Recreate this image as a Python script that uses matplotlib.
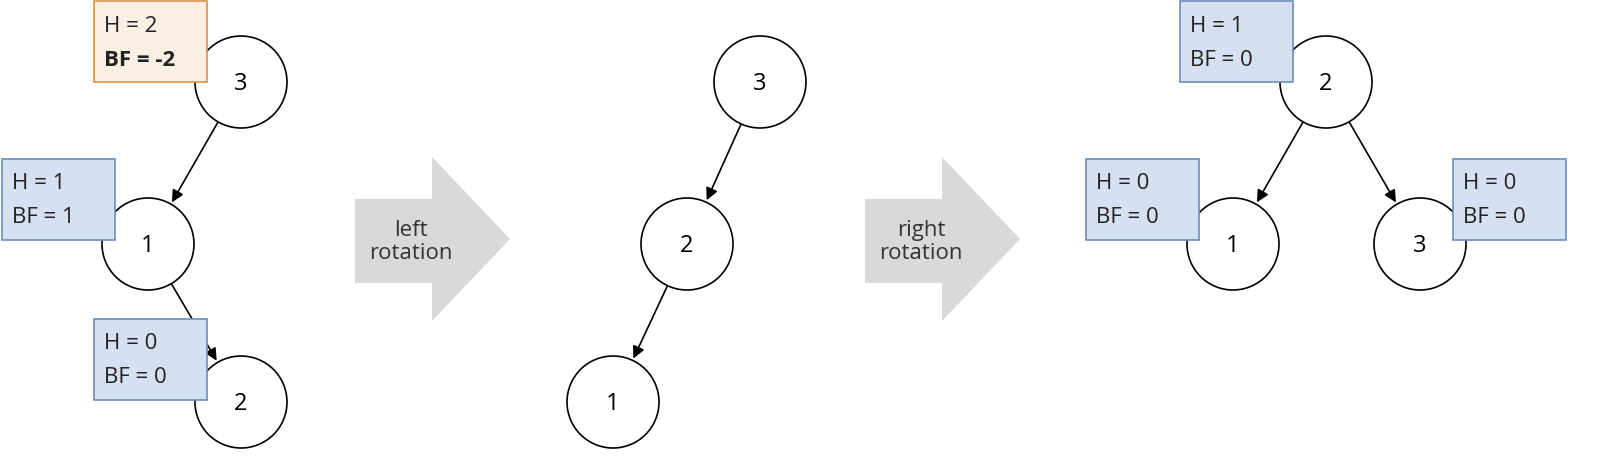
import numpy as np
import matplotlib.pyplot as plt
from matplotlib.patches import Circle, Rectangle, Polygon, FancyArrowPatch

plt.rcParams['font.family'] = ['Open Sans', 'DejaVu Sans']

# node labels per tree
node_labels = ['3', '1', '2', '3', '2', '1', '2', '1', '3']
node_xy = [(241, 83), (148, 245), (241, 403),
           (760, 83), (687, 245), (613, 403),
           (1326, 83), (1233, 245), (1420, 245)]
edges = [(0, 1), (1, 2), (3, 4), (4, 5), (6, 7), (6, 8)]

box_heights = ['2', '1', '0', '1', '0', '0']
box_bfs = ['-2', '1', '0', '0', '0', '0']
box_xy = [(94, 2), (2, 160), (94, 320), (1180, 2), (1086, 160), (1453, 160)]

rot_labels = ['left\nrotation', 'right\nrotation']
rot_x = [355, 865]

R = 46
fig = plt.figure(figsize=(16, 4.6), dpi=100)
ax = fig.add_axes([0, 0, 1, 1])
ax.set_xlim(0, 1600)
ax.set_ylim(460, 0)
ax.axis('off')

for (a, b) in edges:
    p1, p2 = np.array(node_xy[a], float), np.array(node_xy[b], float)
    d = (p2 - p1) / np.linalg.norm(p2 - p1)
    s, e = p1 + d * (R + 1), p2 - d * (R + 2)
    ar = FancyArrowPatch(tuple(s), tuple(e), arrowstyle='-|>', mutation_scale=18,
                         shrinkA=0, shrinkB=0, color='black', lw=1.2, zorder=1)
    ax.add_patch(ar)

for lab, (x, y) in zip(node_labels, node_xy):
    ax.add_patch(Circle((x, y), R, facecolor='white', edgecolor='black', lw=1.2, zorder=2))
    ax.text(x, y + 1, lab, ha='center', va='center', fontsize=17, zorder=3)

for i, (h, bf, (x, y)) in enumerate(zip(box_heights, box_bfs, box_xy)):
    warn = i == 0
    fc = '#f9efe2' if warn else '#d5e0f1'
    ec = '#d8924a' if warn else '#6c8ebf'
    ax.add_patch(Rectangle((x, y), 113, 81, facecolor=fc, edgecolor=ec, lw=1.2, zorder=4))
    ax.text(x + 10, y + 24, f'H = {h}', ha='left', va='center', fontsize=16, color='#222222', zorder=5)
    ax.text(x + 10, y + 58, f'BF = {bf}', ha='left', va='center', fontsize=16, color='#222222',
            fontweight='bold' if warn else 'normal', zorder=5)

for lab, x0 in zip(rot_labels, rot_x):
    pts = [(x0, 200), (x0 + 77, 200), (x0 + 77, 158), (x0 + 155, 240),
           (x0 + 77, 322), (x0 + 77, 284), (x0, 284)]
    ax.add_patch(Polygon(pts, closed=True, facecolor='#d9d9d9', edgecolor='none', zorder=0))
    ax.text(x0 + 56, 242, lab, ha='center', va='center', fontsize=16, color='#333333',
            linespacing=1.1, zorder=1)

fig.savefig('out.png', dpi=100)
